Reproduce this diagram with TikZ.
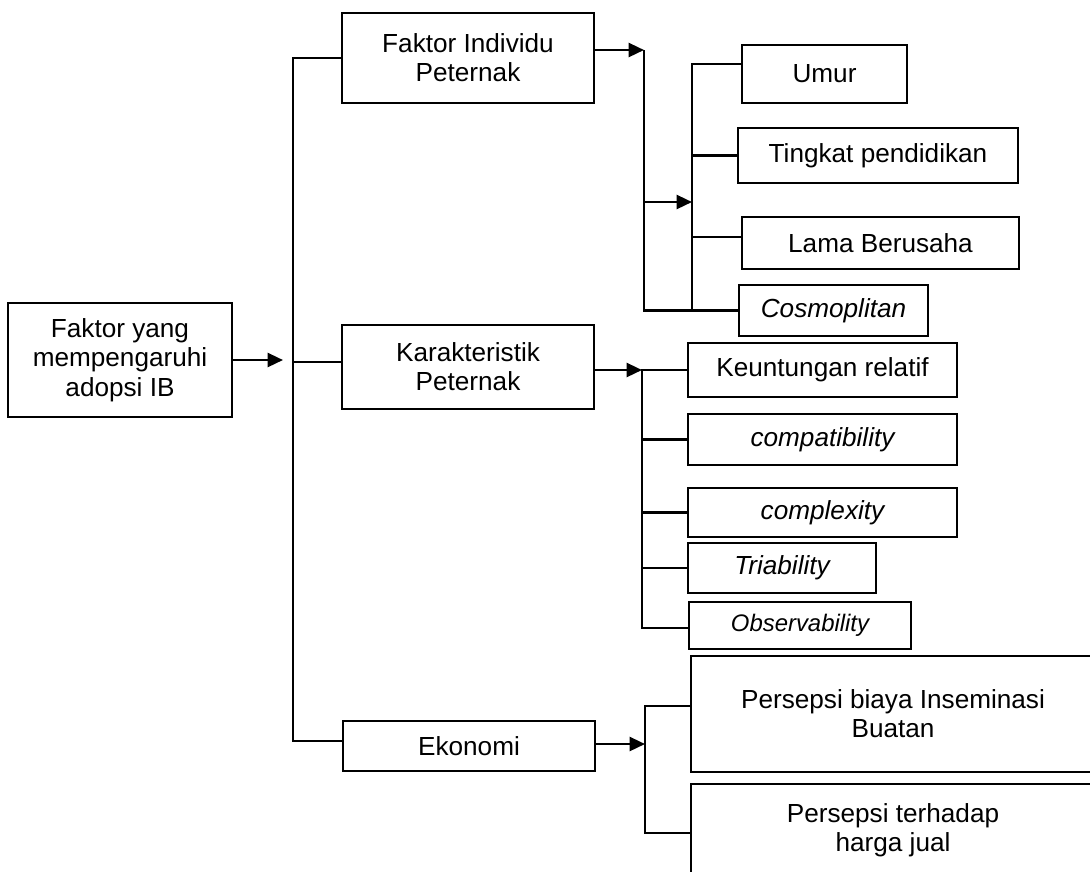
\documentclass[tikz,border=0pt]{standalone}
\usepackage{fontspec}
\setmainfont{Liberation Sans}
\usetikzlibrary{arrows.meta, positioning}
\tikzset{
  every picture/.style={line width=1.8pt},
  box/.style={draw, rectangle, align=center, inner sep=2pt, font=\fontsize{18.6}{20.8}\selectfont},
  arrow/.style={-{Triangle[length=11pt, width=10pt]}},
}

\begin{document}
\begin{tikzpicture}[x=0.025cm, y=-0.025cm]
  \useasboundingbox (0,0) rectangle (1090,871);
  \clip (0,0) rectangle (1090,871);
  % main box and the three groups
  \node[box, minimum width=5.6cm, minimum height=2.85cm] (main) at (120,360) {Faktor yang\\mempengaruhi\\adopsi IB};
  \node[box, minimum width=6.3cm, minimum height=2.25cm] (indiv) at (468,58) {Faktor Individu\\Peternak};
  \node[box, minimum width=6.3cm, minimum height=2.1cm] (karak) at (468,367) {Karakteristik\\Peternak};
  \node[box, minimum width=6.3cm, minimum height=1.25cm] (ekon) at (469,746) {Ekonomi};
  % individual factors
  \node[box, minimum width=4.125cm, minimum height=1.45cm] (umur) at (824.5,74) {Umur};
  \node[box, minimum width=7cm, minimum height=1.375cm] (tingkat) at (878,155.5) {Tingkat pendidikan};
  \node[box, minimum width=6.925cm, minimum height=1.3cm] (lama) at (880.5,243) {Lama Berusaha};
  \node[box, minimum width=4.725cm, minimum height=1.275cm] (cosmo) at (833.5,310.5) {\itshape Cosmoplitan};
  % characteristics
  \node[box, minimum width=6.725cm, minimum height=1.35cm] (keunt) at (822.5,370) {Keuntungan relatif};
  \node[box, minimum width=6.725cm, minimum height=1.275cm] (compat) at (822.5,439.5) {\itshape compatibility};
  \node[box, minimum width=6.725cm, minimum height=1.225cm] (complex) at (822.5,512.5) {\itshape complexity};
  \node[box, minimum width=4.7cm, minimum height=1.25cm] (triab) at (782,568) {\itshape Triability};
  \node[box, minimum width=5.55cm, minimum height=1.175cm, font=\fontsize{17}{20}\selectfont] (observ) at (800,625.5) {\itshape Observability};
  % economy
  \node[box, minimum width=10.1cm, minimum height=2.9cm] (biaya) at (893,714) {Persepsi biaya Inseminasi\\Buatan};
  \node[box, minimum width=10.1cm, minimum height=2.3cm] (harga) at (893,830) {Persepsi terhadap\\harga jual};

  \coordinate (tin) at (283,360);
  \coordinate (ttop) at (293,58);
  \coordinate (tbot) at (293,741);
  \coordinate (b1top) at (644,50);
  \coordinate (b1mid) at (644,202);
  \coordinate (b1bot) at (644,310.5);
  \coordinate (b2top) at (692,64);
  \coordinate (b2mid) at (692,202);
  \coordinate (b3top) at (642,370);
  \coordinate (b3bot) at (642,628);
  \coordinate (b4mid) at (645,744);
  \coordinate (b4top) at (645,706);
  \coordinate (b4bot) at (645,833);

  % trunk
  \draw[arrow] (main.east |- tin) -- (tin);
  \draw (indiv.west) -- (ttop) -- (tbot) -- (ekon.west |- tbot);
  \draw (karak.west |- 0,362) -- (ttop |- 0,362);

  % Faktor Individu branch
  \draw[arrow] (indiv.east |- b1top) -- (b1top);
  \draw (b1top) -- (b1bot) -- (cosmo.west);
  \draw[arrow] (b1mid) -- (b2mid);
  \draw (umur.west |- b2top) -- (b2top) -- (b2top |- cosmo.west);
  \draw (tingkat.west) -- (tingkat.west -| b2top);
  \draw ([yshift=0.15cm]lama.west) -- ([yshift=0.15cm]lama.west -| b2top);

  % Karakteristik branch
  \draw[arrow] (karak.east |- b3top) -- (b3top);
  \draw (keunt.west) -- (b3top) -- (b3bot) -- (observ.west |- b3bot);
  \foreach \n in {compat, complex, triab}
    \draw (\n.west) -- (\n.west -| b3top);

  % Ekonomi branch
  \draw[arrow] (ekon.east |- b4mid) -- (b4mid);
  \draw (biaya.west |- b4top) -- (b4top) -- (b4bot) -- (harga.west |- b4bot);
\end{tikzpicture}
\end{document}
